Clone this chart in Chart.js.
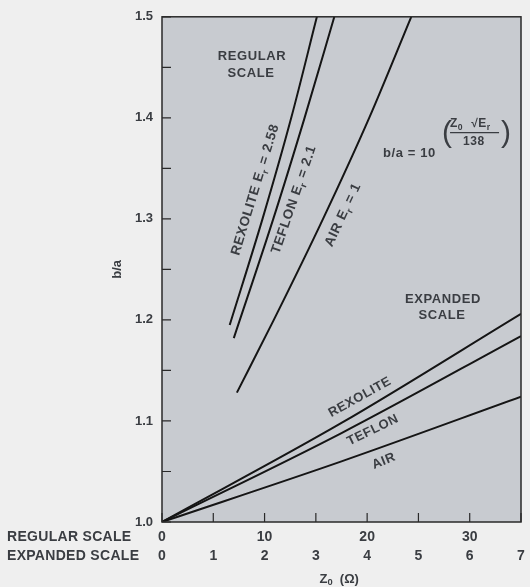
<!DOCTYPE html>
<html>
<head>
<meta charset="utf-8">
<script src="https://cdn.jsdelivr.net/npm/chart.js@4.4.1/dist/chart.umd.min.js"></script>
<style>
  html, body { margin: 0; padding: 0; background: #efefef; }
  #wrap { width: 530px; height: 587px; }
</style>
</head>
<body>
<div id="wrap"><canvas id="chart" width="530" height="587"></canvas></div>
<script>
// regular scale, Z0 in ohms
const rexoliteRegZ = [6.6, 9.8, 12.6, 15.1];
const rexoliteRegBa = [1.195, 1.3, 1.4, 1.5];
const teflonRegZ = [7.0, 10.85, 13.9, 16.8];
const teflonRegBa = [1.182, 1.3, 1.4, 1.5];
const airRegZ = [7.3, 10.9, 15.7, 20.2, 24.3];
const airRegBa = [1.128, 1.2, 1.3, 1.4, 1.5];

// expanded scale
const rexoliteExpZ = [0, 3.5, 7];
const rexoliteExpBa = [1.0, 1.098, 1.206];
const teflonExpZ = [0, 3.5, 7];
const teflonExpBa = [1.0, 1.088, 1.184];
const airExpZ = [0, 3.5, 7];
const airExpBa = [1.0, 1.06, 1.124];

const materials = ["REXOLITE", "TEFLON", "AIR"];
const permittivity = ["2.58", "2.1", "1"];

const yTicks = ["1.0", "1.1", "1.2", "1.3", "1.4", "1.5"];
const regularTicks = ["0", "10", "20", "30"];
const expandedTicks = ["0", "1", "2", "3", "4", "5", "6", "7"];

const ink = "#3a3d42";
const lineColor = "#151515";
const fontFamily = "'Liberation Sans', Arial, sans-serif";

function pts(xs, ys) {
  return xs.map((x, i) => ({ x: x, y: ys[i] }));
}

function line(xs, ys, axis) {
  return {
    data: pts(xs, ys),
    xAxisID: axis,
    showLine: true,
    borderColor: lineColor,
    borderWidth: 2,
    pointRadius: 0,
    cubicInterpolationMode: "monotone"
  };
}

// text with subscripts, centred on (x, y), rotated by deg
function rich(ctx, parts, x, y, deg, size) {
  ctx.save();
  ctx.translate(x, y);
  ctx.rotate(-deg * Math.PI / 180);
  ctx.textBaseline = "middle";
  ctx.textAlign = "left";
  let w = 0;
  parts.forEach(p => {
    ctx.font = "bold " + (p[1] ? size * 0.7 : size) + "px " + fontFamily;
    p.w = ctx.measureText(p[0]).width;
    w += p.w;
  });
  let cx = -w / 2;
  parts.forEach(p => {
    ctx.font = "bold " + (p[1] ? size * 0.7 : size) + "px " + fontFamily;
    ctx.fillText(p[0], cx, p[1] ? size * 0.35 : 0);
    cx += p.w;
  });
  ctx.restore();
}

// left-aligned run of text with subscripts, returns end x
function run(ctx, parts, x, y, size) {
  parts.forEach(p => {
    ctx.font = "bold " + (p[1] ? size * 0.72 : size) + "px " + fontFamily;
    ctx.fillText(p[0], x, p[1] ? y + size * 0.3 : y);
    x += ctx.measureText(p[0]).width;
  });
  return x;
}

const frame = {
  id: "frame",
  beforeDraw(chart) {
    const { ctx, chartArea: a } = chart;
    ctx.save();
    ctx.fillStyle = "#c8cbd0";
    ctx.fillRect(a.left, a.top, a.right - a.left, a.bottom - a.top);
    ctx.restore();
  },
  afterDatasetsDraw(chart) {
    const { ctx, chartArea: a, scales } = chart;
    const P = (z, b) => [scales.x.getPixelForValue(z), scales.y.getPixelForValue(b)];
    ctx.save();
    ctx.strokeStyle = "#2a2a2a";
    ctx.lineWidth = 1.5;
    ctx.strokeRect(a.left, a.top, a.right - a.left, a.bottom - a.top);
    ctx.lineWidth = 1.2;
    ctx.beginPath();
    scales.y.ticks.forEach(t => {
      const py = scales.y.getPixelForValue(t.value);
      ctx.moveTo(a.left, py);
      ctx.lineTo(a.left + 9, py);
    });
    scales.x.ticks.forEach(t => {
      const px = scales.x.getPixelForValue(t.value);
      ctx.moveTo(px, a.bottom);
      ctx.lineTo(px, a.bottom - 9);
    });
    ctx.stroke();

    ctx.fillStyle = ink;
    ctx.letterSpacing = "0.6px";
    ctx.textAlign = "center";
    ctx.textBaseline = "middle";
    ctx.font = "bold 13px " + fontFamily;
    let p = P(8.77, 1.4605);
    ctx.fillText("REGULAR", p[0], p[1]);
    p = P(8.68, 1.4437);
    ctx.fillText("SCALE", p[0], p[1]);
    p = P(27.39, 1.2204);
    ctx.fillText("EXPANDED", p[0], p[1]);
    p = P(27.3, 1.2045);
    ctx.fillText("SCALE", p[0], p[1]);

    // labels along the regular-scale lines
    const regPos = [[9.1, 1.329, 73], [12.87, 1.319, 71], [17.65, 1.304, 65]];
    regPos.forEach((r, i) => {
      const q = P(r[0], r[1]);
      rich(ctx, [[materials[i] + " E", false], ["r", true], [" = " + permittivity[i], false]], q[0], q[1], r[2], 13.5);
    });
    // labels along the expanded-scale lines
    const expPos = [[19.3, 1.1235, 29], [20.57, 1.0909, 26], [21.64, 1.0603, 22]];
    expPos.forEach((r, i) => {
      const q = P(r[0], r[1]);
      rich(ctx, [[materials[i], false]], q[0], q[1], r[2], 13);
    });

    // formula
    const f = P(21.55, 1.3646);
    ctx.textAlign = "left";
    ctx.font = "bold 13px " + fontFamily;
    ctx.fillText("b/a = 10", f[0], f[1]);
    const fx = f[0] + 60, fy = f[1] - 21;
    ctx.letterSpacing = "0px";
    ctx.font = "30px " + fontFamily;
    ctx.fillText("(", fx - 1, fy + 1);
    ctx.fillText(")", fx + 58, fy + 1);
    ctx.strokeStyle = ink;
    ctx.lineWidth = 1.2;
    ctx.beginPath();
    ctx.moveTo(fx + 7, fy);
    ctx.lineTo(fx + 56, fy);
    ctx.stroke();
    ctx.letterSpacing = "0.5px";
    let ex = run(ctx, [["Z", false], ["0", true]], fx + 7, fy - 9, 12);
    run(ctx, [["\u221AE", false], ["r", true]], ex + 8, fy - 9, 12);
    ctx.font = "bold 12px " + fontFamily;
    ctx.fillText("138", fx + 20, fy + 9);
    ctx.restore();
  }
};

new Chart(document.getElementById("chart"), {
  type: "scatter",
  data: {
    datasets: [
      line(rexoliteRegZ, rexoliteRegBa, "x"),
      line(teflonRegZ, teflonRegBa, "x"),
      line(airRegZ, airRegBa, "x"),
      line(rexoliteExpZ, rexoliteExpBa, "x2"),
      line(teflonExpZ, teflonExpBa, "x2"),
      line(airExpZ, airExpBa, "x2")
    ]
  },
  options: {
    responsive: false,
    animation: false,
    layout: {
      padding: { top: 16, right: 9, left: 0, bottom: 0 }
    },
    plugins: {
      legend: { display: false },
      tooltip: { enabled: false }
    },
    scales: {
      y: {
        min: 1.0,
        max: 1.5,
        afterFit: s => { s.width = 162; },
        grid: { display: false, drawTicks: false },
        border: { display: false },
        ticks: {
          stepSize: 0.05,
          padding: 9,
          color: ink,
          font: { size: 13, weight: "bold", family: fontFamily },
          callback: v => {
            const t = (Math.round(v * 100) / 100).toFixed(1);
            return Math.round(v * 100) % 10 === 0 && yTicks.includes(t) ? t : "";
          }
        },
        title: {
          display: true,
          text: "b/a",
          color: ink,
          font: { size: 13, weight: "bold", family: fontFamily },
          padding: { top: 110 }
        }
      },
      x: {
        type: "linear",
        position: "bottom",
        min: 0,
        max: 35,
        afterFit: s => { s.height = 24; },
        grid: { display: false, drawTicks: false },
        border: { display: false },
        ticks: {
          stepSize: 5,
          padding: 7,
          maxRotation: 0,
          autoSkip: false,
          color: ink,
          font: { size: 14, weight: "bold", family: fontFamily },
          callback: v => regularTicks.includes(String(v)) ? String(v) : ""
        }
      },
      x2: {
        type: "linear",
        position: "bottom",
        min: 0,
        max: 7,
        afterFit: s => { s.height = 41; },
        grid: { display: false, drawTicks: false },
        border: { display: false },
        ticks: {
          stepSize: 1,
          padding: 2,
          maxRotation: 0,
          autoSkip: false,
          color: ink,
          font: { size: 14, weight: "bold", family: fontFamily },
          callback: v => expandedTicks.includes(String(v)) ? String(v) : ""
        }
      }
    }
  },
  plugins: [frame, {
    id: "scaleNames",
    afterDraw(chart) {
      const { ctx, scales, chartArea: a } = chart;
      ctx.save();
      ctx.fillStyle = ink;
      ctx.font = "bold 14px " + fontFamily;
      ctx.letterSpacing = "0.3px";
      ctx.textBaseline = "middle";
      ctx.textAlign = "left";
      const y1 = scales.x.top + 7 + 8.4;
      const y2 = scales.x2.top + 2 + 8.4;
      ctx.fillText("REGULAR SCALE", 7, y1);
      ctx.fillText("EXPANDED SCALE", 7, y2);
      // axis title Z0 (Ω)
      ctx.letterSpacing = "0px";
      const cx = (a.left + a.right) / 2 - 22;
      run(ctx, [["Z", false], ["0", true], ["  (\u03A9)", false]], cx, 579, 13);
      ctx.restore();
    }
  }]
});
</script>
</body>
</html>
